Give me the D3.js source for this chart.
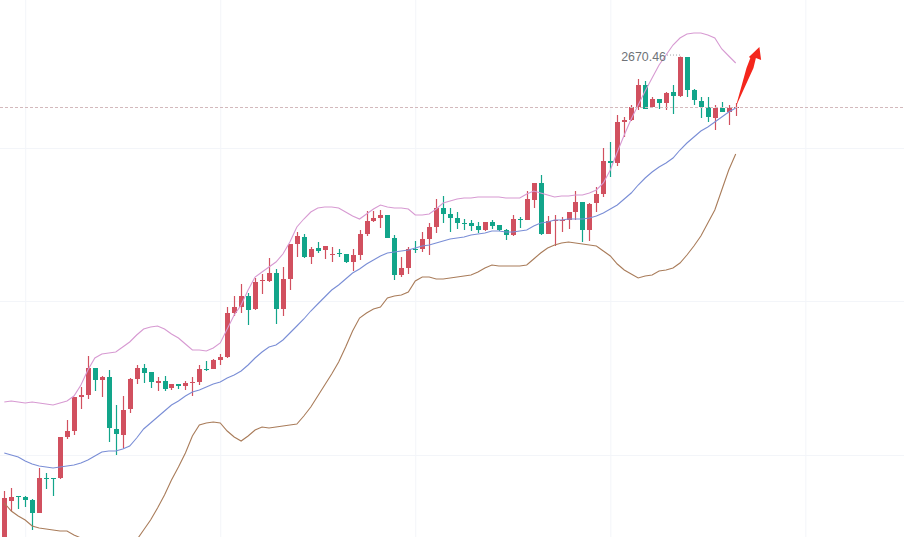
<!DOCTYPE html>
<html>
<head>
<meta charset="utf-8">
<title>K-line</title>
<script src="https://cdn.jsdelivr.net/npm/d3@7"></script>
<style>
    html, body { margin: 0; padding: 0; background: #fff; overflow: hidden; }
    svg { display: block; }
</style>
</head>
<body>
<div id="chart"></div>
<script>
// candles, oldest first
const opens = [2182,2226,2231,2230,2227,2214,2249,2249,2249,2290,
    2296,2330,2332,2359,2347,2350,2298,2292,2318,2348,
    2359,2355,2344,2346,2339,2343,2341,2344,2345,2358,
    2358,2367,2370,2414,2420,2431,2418,2446,2446,2454,
    2418,2448,2483,2490,2470,2479,2477,2472,2474,2473,
    2465,2472,2493,2506,2509,2512,2489,2452,2459,2478,
    2478,2488,2500,2519,2513,2509,2504,2504,2501,2497,
    2505,2502,2497,2492,2508,2507,2527,2544,2493,2506,
    2506,2507,2515,2525,2497,2524,2533,2566,2564,2605,
    2607,2620,2642,2620,2628,2624,2635,2631,2670,2637,
    2626,2620,2609,2619,2615,2619];
const closes = [2229,2230,2230,2227,2214,2249,2248,2248,2290,2296,
    2330,2332,2359,2347,2350,2299,2293,2317,2348,2359,
    2354,2345,2346,2338,2343,2341,2344,2345,2358,2357,
    2367,2370,2414,2420,2431,2417,2445,2447,2454,2418,
    2448,2483,2491,2470,2478,2476,2481,2473,2473,2465,
    2472,2493,2506,2509,2512,2489,2452,2459,2478,2477,
    2488,2500,2519,2513,2509,2504,2503,2501,2497,2505,
    2501,2497,2492,2508,2507,2528,2544,2493,2506,2507,
    2507,2515,2525,2497,2523,2533,2566,2564,2605,2607,
    2620,2642,2618,2628,2624,2634,2631,2670,2637,2627,
    2620,2610,2619,2615,2619,2620];
const highs = [2236,2239,2231,2231,2228,2259,2254,2249,2290,2307,
    2330,2340,2371,2359,2351,2357,2322,2331,2349,2362,
    2363,2355,2350,2351,2343,2343,2346,2350,2362,2366,
    2368,2373,2420,2431,2443,2434,2449,2453,2469,2458,
    2460,2483,2495,2493,2480,2485,2481,2480,2478,2473,
    2478,2497,2516,2516,2517,2512,2492,2470,2480,2486,
    2495,2504,2528,2531,2519,2515,2508,2507,2505,2505,
    2507,2502,2498,2512,2510,2536,2544,2552,2511,2512,
    2510,2515,2536,2525,2524,2540,2579,2585,2612,2610,
    2622,2648,2646,2630,2628,2635,2642,2670.46,2670,2638,
    2630,2630,2622,2625,2622,2624];
const lows = [2177,2216,2218,2220,2197,2214,2238,2231,2248,2288,
    2292,2318,2328,2336,2330,2285,2272,2279,2314,2343,
    2344,2339,2336,2336,2337,2338,2337,2331,2342,2356,
    2358,2362,2369,2411,2414,2402,2417,2433,2445,2403,
    2411,2437,2470,2469,2463,2474,2468,2465,2470,2464,
    2456,2467,2491,2505,2499,2489,2447,2450,2453,2474,
    2475,2472,2494,2504,2495,2498,2497,2496,2494,2496,
    2498,2496,2487,2491,2499,2507,2519,2492,2493,2481,
    2495,2498,2507,2485,2486,2515,2530,2550,2561,2590,
    2606,2617,2618,2620,2618,2617,2613,2630,2630,2622,
    2609,2605,2597,2615,2602,2611];

// bollinger bands, one value per candle
const upperBand = [2325,2326,2325,2324,2325,2324,2323,2322,2324,2326,
    2331,2342,2357,2369,2373,2374,2375,2380,2385,2392,
    2398,2400,2401,2398,2393,2389,2383,2377,2377,2376,
    2379,2384,2398,2412,2422,2437,2450,2455,2460,2465,
    2473,2485,2500,2508,2515,2519,2520,2520,2519,2515,
    2511,2508,2513,2518,2522,2520,2519,2519,2518,2512,
    2512,2513,2518,2524,2526,2528,2529,2529,2530,2530,
    2530,2530,2529,2529,2529,2533,2536,2534,2532,2530,
    2531,2531,2532,2532,2534,2537,2544,2557,2575,2592,
    2608,2622,2636,2649,2662,2672,2682,2689,2693,2694,
    2694,2692,2689,2678,2671,2664];
const middleBand = [2274,2272,2270,2266,2263,2261,2260,2259,2260,2261,
    2262,2264,2267,2271,2275,2276,2276,2278,2281,2289,
    2298,2304,2310,2316,2322,2326,2331,2335,2337,2340,
    2343,2345,2349,2352,2356,2362,2369,2375,2380,2382,
    2387,2394,2401,2408,2416,2423,2430,2437,2442,2448,
    2454,2458,2463,2467,2471,2474,2475,2476,2477,2479,
    2481,2482,2484,2486,2488,2489,2490,2492,2493,2494,
    2496,2496,2495,2495,2496,2497,2501,2504,2505,2507,
    2507,2508,2508,2508,2509,2511,2514,2518,2522,2528,
    2534,2542,2549,2555,2560,2564,2569,2577,2584,2590,
    2596,2600,2605,2610,2615,2619];
const lowerBand = [2224,2216,2211,2207,2201,2199,2198,2197,2196,2196,
    2192,2189,2183,2179,2175,2174,2173,2174,2178,2187,
    2197,2207,2219,2232,2247,2260,2274,2291,2302,2304,
    2305,2304,2296,2290,2286,2291,2297,2300,2299,2300,
    2301,2302,2303,2311,2320,2331,2342,2353,2365,2380,
    2396,2409,2414,2418,2420,2429,2431,2432,2435,2446,
    2450,2450,2448,2448,2449,2450,2451,2452,2455,2459,
    2462,2461,2461,2461,2461,2462,2468,2474,2479,2482,
    2484,2485,2484,2483,2482,2481,2476,2471,2463,2457,
    2453,2449,2451,2452,2456,2457,2459,2464,2472,2481,
    2491,2504,2517,2537,2557,2573];

const lastPrice = 2619.5;
const gridPrices = [2579, 2426, 2272];
const gridCandles = [3, 31, 59, 87, 115];
const peakCandle = 97;

// hand drawn arrow, candle index / price
const arrowIdx = [105, 106.55, 107.1, 106.9, 108.4, 108.65, 107.9, 107.55];
const arrowPrice = [2620, 2659, 2669, 2670, 2680, 2667, 2669, 2659];

const width = 904, height = 537;
const upColor = '#d1505f', downColor = '#12a58a';

const x = d3.scaleLinear().domain([0, 105]).range([4.3, 735.7]);
const y = d3.scaleLinear().domain([2727, 2190]).range([0, height]);

const svg = d3.select('#chart').append('svg')
    .attr('width', width)
    .attr('height', height);

// grid comes from the axes, labels hidden
const gridX = d3.axisBottom(x).tickValues(gridCandles).tickSize(height).tickFormat('');
const gridY = d3.axisLeft(y).tickValues(gridPrices).tickSize(-width).tickFormat('');
svg.append('g').call(gridX).call(g => {
    g.select('.domain').remove();
    g.selectAll('line').attr('stroke', '#f3f5f9');
});
svg.append('g').call(gridY).call(g => {
    g.select('.domain').remove();
    g.selectAll('line').attr('stroke', '#f3f5f9');
});

const candles = d3.range(opens.length);
const candleColor = i => closes[i] >= opens[i] ? upColor : downColor;

const line = values => d3.line()
    .x((d, i) => x(i))
    .y(d => y(d))(values);

// wicks
svg.append('g').selectAll('line')
    .data(candles)
    .join('line')
    .attr('x1', i => Math.round(x(i)) + 0.5)
    .attr('x2', i => Math.round(x(i)) + 0.5)
    .attr('y1', i => y(highs[i]))
    .attr('y2', i => y(lows[i]))
    .attr('stroke', candleColor)
    .attr('stroke-width', 1.2);

// bodies, thin ones stay at least 1px
const bodyWidth = 5;
svg.append('g').selectAll('rect')
    .data(candles)
    .join('rect')
    .attr('x', i => Math.round(x(i)) + 0.5 - bodyWidth / 2)
    .attr('width', bodyWidth)
    .attr('y', i => y(Math.max(opens[i], closes[i])))
    .attr('height', i => Math.max(1, Math.abs(y(opens[i]) - y(closes[i]))))
    .attr('fill', candleColor);

[[upperBand, '#d79ad2'], [middleBand, '#7a8ed6'], [lowerBand, '#a97c5a']].forEach(([values, color]) => {
    svg.append('path')
        .attr('d', line(values))
        .attr('fill', 'none')
        .attr('stroke', color)
        .attr('stroke-width', 1.1);
});

// last price line
svg.append('line')
    .attr('x1', 0)
    .attr('x2', width)
    .attr('y1', y(lastPrice))
    .attr('y2', y(lastPrice))
    .attr('stroke', '#d3b9bc')
    .attr('stroke-width', 1)
    .attr('stroke-dasharray', '3,2');

// max label with its dotted leader
const peakY = y(highs[peakCandle]);
svg.append('text')
    .attr('x', x(peakCandle) - 14)
    .attr('y', peakY + 4)
    .attr('text-anchor', 'end')
    .attr('font-family', '"Liberation Sans", Arial, sans-serif')
    .attr('font-size', 12.4)
    .attr('fill', '#6f7378')
    .text(highs[peakCandle].toFixed(2));
svg.append('line')
    .attr('x1', x(peakCandle) - 13)
    .attr('x2', x(peakCandle))
    .attr('y1', peakY - 1.5)
    .attr('y2', peakY - 1.5)
    .attr('stroke', '#9a9da3')
    .attr('stroke-dasharray', '1,2');

// red arrow
svg.append('path')
    .attr('d', d3.line()(arrowIdx.map((d, i) => [x(d), y(arrowPrice[i])])) + 'Z')
    .attr('fill', '#f4261c');
</script>
</body>
</html>
